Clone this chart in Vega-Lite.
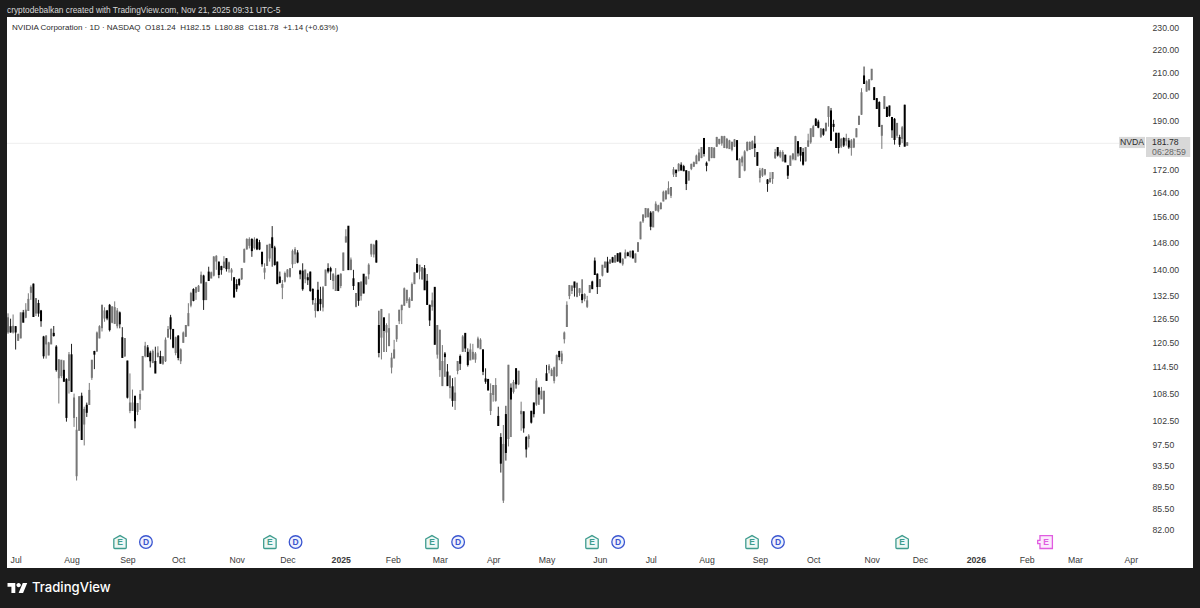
{"$schema":"https://vega.github.io/schema/vega-lite/v6.json","width":1186,"height":551,"padding":{"left":7,"top":17,"right":7,"bottom":40},"autosize":{"type":"none"},"background":"#1c1c1c","view":{"fill":"#ffffff","stroke":null},"title":{"text":"cryptodebalkan created with TradingView.com, Nov 21, 2025 09:31 UTC-5","anchor":"start","frame":"group","offset":3,"color":"#d8d8d8","font":"Liberation Sans","fontSize":8.34,"fontWeight":400},
"datasets":{"ohlc":[
{"i":0,"o":123.4,"h":128.1,"l":122.8,"c":126.8},{"i":1,"o":124.5,"h":126.7,"l":123.1,"c":123.4},{"i":2,"o":123.4,"h":127.8,"l":122.9,"c":124.6},{"i":3,"o":124.5,"h":124.8,"l":118.9,"c":123.4},{"i":4,"o":121.3,"h":122.9,"l":121.1,"c":122.5},{"i":5,"o":121.9,"h":128.3,"l":121.7,"c":128.1},{"i":6,"o":128.1,"h":129,"l":125.9,"c":125.9},{"i":7,"o":127.2,"h":130.8,"l":126.8,"c":128.8},{"i":8,"o":129,"h":133.5,"l":128.8,"c":131.7},{"i":9,"o":133.9,"h":135.7,"l":131.7,"c":135},
{"i":10,"o":135.9,"h":136.2,"l":127.2,"c":127.4},{"i":11,"o":128.3,"h":132.2,"l":127.4,"c":131.9},{"i":12,"o":130.6,"h":131.7,"l":127.2,"c":128.3},{"i":13,"o":128.6,"h":129,"l":124.6,"c":126.3},{"i":14,"o":121.9,"h":122.3,"l":116.7,"c":117.5},{"i":15,"o":120.4,"h":122.5,"l":116.7,"c":122.1},{"i":16,"o":117.7,"h":120.8,"l":117.5,"c":120.4},{"i":17,"o":120.4,"h":124.2,"l":120.3,"c":123.8},{"i":18,"o":122.8,"h":124.8,"l":122.1,"c":122.5},{"i":19,"o":119.4,"h":120,"l":113.6,"c":114.2},
{"i":20,"o":112.3,"h":116.5,"l":106.4,"c":116.3},{"i":21,"o":112.8,"h":116.3,"l":112.1,"c":116.2},{"i":22,"o":113.8,"h":116.3,"l":111.3,"c":111.5},{"i":23,"o":111.7,"h":112.1,"l":102.5,"c":103.5},{"i":24,"o":111.7,"h":118.3,"l":108.6,"c":117.5},{"i":25,"o":117.5,"h":120.3,"l":109,"c":109.2},{"i":26,"o":103.5,"h":108.6,"l":101.4,"c":107.5},{"i":27,"o":91.8,"h":103.5,"l":90.8,"c":100.6},{"i":28,"o":100.8,"h":107.9,"l":100.6,"c":107.8},{"i":29,"o":107.9,"h":108.8,"l":98.7,"c":98.9},
{"i":30,"o":102.1,"h":105.7,"l":97.6,"c":105},{"i":31,"o":105.9,"h":106.6,"l":103.5,"c":104.6},{"i":32,"o":106.3,"h":111,"l":106.1,"c":109.2},{"i":33,"o":112.4,"h":116.3,"l":111.7,"c":116.2},{"i":34,"o":118.3,"h":118.6,"l":114.2,"c":117.9},{"i":35,"o":118.7,"h":123.4,"l":118.3,"c":122.9},{"i":36,"o":121.9,"h":125,"l":121.7,"c":124.5},{"i":37,"o":124.5,"h":130.4,"l":123.4,"c":130.1},{"i":38,"o":127,"h":129.7,"l":125.9,"c":128.6},{"i":39,"o":128.6,"h":129,"l":126.3,"c":127},
{"i":40,"o":130.1,"h":130.6,"l":123.4,"c":124},{"i":41,"o":125.9,"h":129.9,"l":125.5,"c":129.7},{"i":42,"o":125.6,"h":131.3,"l":125.3,"c":129.5},{"i":43,"o":125,"h":129.5,"l":124.2,"c":128.6},{"i":44,"o":128.1,"h":128.6,"l":124.2,"c":125.5},{"i":45,"o":121.7,"h":124.5,"l":117,"c":117.1},{"i":46,"o":117.5,"h":121.7,"l":117.1,"c":121.5},{"i":47,"o":116,"h":116.2,"l":107.5,"c":107.9},{"i":48,"o":105,"h":113.2,"l":104.3,"c":106.4},{"i":49,"o":105,"h":109.5,"l":104.8,"c":106.4},
{"i":50,"o":107.9,"h":108,"l":101.1,"c":102.8},{"i":51,"o":104.8,"h":106.4,"l":103.9,"c":106.3},{"i":52,"o":107.5,"h":109.4,"l":105,"c":108.3},{"i":53,"o":109.5,"h":117.3,"l":109.4,"c":117.1},{"i":54,"o":117.5,"h":120.8,"l":117,"c":119.6},{"i":55,"o":119.2,"h":120,"l":117.1,"c":117.3},{"i":56,"o":117.9,"h":118.6,"l":114.6,"c":116.3},{"i":57,"o":115.9,"h":118.9,"l":115.6,"c":118.3},{"i":58,"o":115.9,"h":119.6,"l":113.4,"c":113.4},{"i":59,"o":117.3,"h":119.7,"l":117,"c":117.9},
{"i":60,"o":117.1,"h":118.6,"l":115.6,"c":115.7},{"i":61,"o":115.7,"h":117.3,"l":115.2,"c":117},{"i":62,"o":116.3,"h":121.9,"l":115.9,"c":121.1},{"i":63,"o":122.1,"h":124.8,"l":121.9,"c":123.8},{"i":64,"o":126.8,"h":127.7,"l":121.4,"c":124.2},{"i":65,"o":123.8,"h":124,"l":119.2,"c":119.6},{"i":66,"o":118.3,"h":122.1,"l":117.5,"c":121.7},{"i":67,"o":122.1,"h":122.5,"l":116.3,"c":117.1},{"i":68,"o":116.3,"h":119.2,"l":115.4,"c":118.7},{"i":69,"o":120.8,"h":123.4,"l":120.6,"c":122.9},
{"i":70,"o":122.3,"h":125,"l":122.1,"c":124.8},{"i":71,"o":125,"h":130.8,"l":125,"c":127.9},{"i":72,"o":130.4,"h":133.9,"l":129.7,"c":133.3},{"i":73,"o":134.4,"h":134.9,"l":131.3,"c":131.7},{"i":74,"o":133.9,"h":135.3,"l":131.7,"c":134.9},{"i":75,"o":134.2,"h":135.8,"l":133.9,"c":135.3},{"i":76,"o":136.5,"h":139.6,"l":136.3,"c":138.4},{"i":77,"o":138.2,"h":138.7,"l":129,"c":131.9},{"i":78,"o":131.9,"h":136.7,"l":131.7,"c":136.3},{"i":79,"o":139.3,"h":141,"l":137,"c":137.2},
{"i":80,"o":137.9,"h":139.6,"l":137.7,"c":139.1},{"i":81,"o":138.7,"h":144.1,"l":138.2,"c":143.7},{"i":82,"o":142.8,"h":144.4,"l":140.1,"c":143.9},{"i":83,"o":142.2,"h":142.5,"l":137.7,"c":138.9},{"i":84,"o":140.9,"h":141.3,"l":138.7,"c":140.3},{"i":85,"o":140.9,"h":144.1,"l":140.6,"c":142.2},{"i":86,"o":143.2,"h":143.5,"l":139.6,"c":140.6},{"i":87,"o":140.6,"h":142.5,"l":139.3,"c":142},{"i":88,"o":139.6,"h":140.6,"l":137,"c":139.9},{"i":89,"o":137.7,"h":137.9,"l":132.4,"c":132.6},
{"i":90,"o":135.8,"h":137.4,"l":133.9,"c":134.9},{"i":91,"o":137.2,"h":137.7,"l":135.5,"c":136.1},{"i":92,"o":137.7,"h":140.6,"l":137.2,"c":140.3},{"i":93,"o":142.5,"h":146.4,"l":142.2,"c":145.9},{"i":94,"o":146.4,"h":149.5,"l":146.1,"c":149},{"i":95,"o":147.5,"h":149.8,"l":146.4,"c":149},{"i":96,"o":149,"h":149.5,"l":143.9,"c":145.9},{"i":97,"o":146.8,"h":149.8,"l":146.1,"c":148.8},{"i":98,"o":149,"h":149.5,"l":145.9,"c":146.4},{"i":99,"o":148,"h":149,"l":145.9,"c":146.4},
{"i":100,"o":145.1,"h":145.4,"l":141,"c":142},{"i":101,"o":139.6,"h":142,"l":137.4,"c":140.3},{"i":102,"o":141.5,"h":147.5,"l":141.3,"c":147.2},{"i":103,"o":143.7,"h":147.8,"l":142.5,"c":147.5},{"i":104,"o":149.5,"h":153.3,"l":141,"c":146.8},{"i":105,"o":146.4,"h":147.2,"l":141.3,"c":141.8},{"i":106,"o":142.2,"h":142.5,"l":136.1,"c":136.3},{"i":107,"o":137.9,"h":139.6,"l":136.3,"c":136.7},{"i":108,"o":135.3,"h":137.2,"l":131.9,"c":135.8},{"i":109,"o":137,"h":139.6,"l":136.5,"c":138.9},
{"i":110,"o":138.4,"h":140.3,"l":137.9,"c":139.9},{"i":111,"o":138.4,"h":140.6,"l":137.9,"c":140.3},{"i":112,"o":142,"h":146.1,"l":140.6,"c":145.4},{"i":113,"o":144.9,"h":146.8,"l":141.8,"c":145.9},{"i":114,"o":144.9,"h":145.9,"l":142,"c":142.5},{"i":115,"o":139.6,"h":140.1,"l":137.4,"c":139.1},{"i":116,"o":139.6,"h":142,"l":134.2,"c":134.9},{"i":117,"o":137.7,"h":140.1,"l":136.3,"c":139.9},{"i":118,"o":137.7,"h":139.1,"l":135.8,"c":137.4},{"i":119,"o":139.3,"h":139.6,"l":133.9,"c":134.4},
{"i":120,"o":134.4,"h":134.9,"l":130.4,"c":131.9},{"i":121,"o":129,"h":132.2,"l":127,"c":130.6},{"i":122,"o":134.2,"h":136.7,"l":128.6,"c":129},{"i":123,"o":131.7,"h":135.3,"l":128.8,"c":130.8},{"i":124,"o":129.9,"h":135.5,"l":128.6,"c":134.9},{"i":125,"o":135.8,"h":140.1,"l":135.5,"c":139.9},{"i":126,"o":140.3,"h":142,"l":139.1,"c":139.9},{"i":127,"o":140.3,"h":141,"l":137.2,"c":139.9},{"i":128,"o":137.2,"h":139.1,"l":134.6,"c":138.7},{"i":129,"o":134.4,"h":140.6,"l":134.2,"c":138.2},
{"i":130,"o":138.4,"h":138.7,"l":134.2,"c":134.4},{"i":131,"o":135.8,"h":139.1,"l":134.9,"c":138.7},{"i":132,"o":140.1,"h":145.1,"l":139.9,"c":144.9},{"i":133,"o":148.5,"h":152.3,"l":148.2,"c":149.8},{"i":134,"o":153.1,"h":153.3,"l":140.1,"c":140.3},{"i":135,"o":140.3,"h":143.7,"l":140.1,"c":142.8},{"i":136,"o":137.4,"h":140.1,"l":134.4,"c":135.8},{"i":137,"o":130.1,"h":133.5,"l":129.7,"c":133.3},{"i":138,"o":136.3,"h":136.3,"l":130.1,"c":131.7},{"i":139,"o":133,"h":136.7,"l":131.5,"c":136.5},
{"i":140,"o":138.7,"h":138.9,"l":133.5,"c":133.7},{"i":141,"o":136.3,"h":138.2,"l":135.8,"c":137.9},{"i":142,"o":139.1,"h":142,"l":137.4,"c":141.3},{"i":143,"o":144.9,"h":147.8,"l":143.9,"c":147.5},{"i":144,"o":144.9,"h":147.8,"l":143.7,"c":147.2},{"i":145,"o":148.5,"h":149,"l":142.2,"c":142.5},{"i":146,"o":124.8,"h":128.8,"l":117,"c":118.3},{"i":147,"o":122.1,"h":129.2,"l":116.5,"c":129},{"i":148,"o":126.8,"h":126.8,"l":118.3,"c":123.8},{"i":149,"o":123.4,"h":125.5,"l":118.3,"c":124.8},
{"i":150,"o":120,"h":128.1,"l":119.7,"c":124},{"i":151,"o":114.8,"h":118.1,"l":113.2,"c":116.7},{"i":152,"o":117,"h":121.3,"l":116.7,"c":118.7},{"i":153,"o":121.7,"h":125,"l":120.8,"c":124.8},{"i":154,"o":126.3,"h":129,"l":125.3,"c":128.8},{"i":155,"o":129.2,"h":130.4,"l":125.3,"c":130.1},{"i":156,"o":130.4,"h":135.1,"l":130.1,"c":134.6},{"i":157,"o":131.7,"h":134.4,"l":130.8,"c":134.2},{"i":158,"o":129.9,"h":132.4,"l":129.5,"c":131.7},{"i":159,"o":131.7,"h":136.5,"l":131.5,"c":135.8},
{"i":160,"o":136.3,"h":139.3,"l":136.1,"c":139.1},{"i":161,"o":141.5,"h":143.5,"l":139.3,"c":139.6},{"i":162,"o":139.9,"h":141.5,"l":137.4,"c":141.3},{"i":163,"o":137.7,"h":140.9,"l":137.2,"c":140.6},{"i":164,"o":140.3,"h":141.5,"l":134.4,"c":134.6},{"i":165,"o":136.7,"h":138.9,"l":130.4,"c":130.6},{"i":166,"o":130.1,"h":130.4,"l":124.8,"c":126.5},{"i":167,"o":130.1,"h":133.7,"l":128.8,"c":131.3},{"i":168,"o":135,"h":135.1,"l":120.3,"c":120.3},{"i":169,"o":117.9,"h":125,"l":116.7,"c":124.8},
{"i":170,"o":114.2,"h":123.8,"l":112.4,"c":123.6},{"i":171,"o":110.5,"h":120,"l":110.5,"c":115.9},{"i":172,"o":117.7,"h":118.3,"l":112.4,"c":117.3},{"i":173,"o":113.4,"h":115.4,"l":110.5,"c":110.5},{"i":174,"o":110.1,"h":112.8,"l":107.5,"c":112.4},{"i":175,"o":110,"h":112.1,"l":105.7,"c":107.2},{"i":176,"o":107.2,"h":112.3,"l":105,"c":108.6},{"i":177,"o":114,"h":115.9,"l":113,"c":115.9},{"i":178,"o":117.1,"h":117.7,"l":114,"c":115.7},{"i":179,"o":118.6,"h":122.5,"l":118.3,"c":121.9},
{"i":180,"o":122.8,"h":122.9,"l":118.3,"c":119.4},{"i":181,"o":118.1,"h":119.2,"l":114.8,"c":115.4},{"i":182,"o":116.5,"h":120.4,"l":117,"c":118.7},{"i":183,"o":116.7,"h":120.3,"l":116.7,"c":118.1},{"i":184,"o":116.7,"h":118.3,"l":115.7,"c":117.7},{"i":185,"o":119.6,"h":122.1,"l":119.2,"c":121.4},{"i":186,"o":119.2,"h":121.7,"l":119.2,"c":121.1},{"i":187,"o":118.7,"h":118.9,"l":112.8,"c":113.8},{"i":188,"o":111.8,"h":114.4,"l":110.8,"c":111.5},{"i":189,"o":111.7,"h":111.8,"l":109.4,"c":109.5},
{"i":190,"o":105,"h":110.9,"l":103.9,"c":108.5},{"i":191,"o":108.5,"h":110.5,"l":106.8,"c":110.3},{"i":192,"o":107.2,"h":112.1,"l":106.8,"c":110.3},{"i":193,"o":103.5,"h":105.7,"l":101.6,"c":101.8},{"i":194,"o":99.1,"h":100.1,"l":92.3,"c":94.2},{"i":195,"o":87.3,"h":101.8,"l":86.7,"c":97.7},{"i":196,"o":103.9,"h":105.9,"l":94.6,"c":96.3},{"i":197,"o":99.1,"h":115.2,"l":97.4,"c":115},{"i":198,"o":109.7,"h":110.9,"l":99.3,"c":107.5},{"i":199,"o":109.2,"h":111.7,"l":108.6,"c":111},
{"i":200,"o":114.2,"h":114.2,"l":109.7,"c":110.9},{"i":201,"o":110.9,"h":113.8,"l":110.5,"c":113.6},{"i":202,"o":104.3,"h":106.8,"l":100.6,"c":104.6},{"i":203,"o":104.5,"h":104.6,"l":100.2,"c":101.3},{"i":204,"o":99.1,"h":99.5,"l":95.2,"c":97},{"i":205,"o":99.1,"h":99.9,"l":97.2,"c":99.4},{"i":206,"o":104.6,"h":104.8,"l":102.1,"c":102.5},{"i":207,"o":106.4,"h":106.6,"l":103.4,"c":104.3},{"i":208,"o":106.4,"h":112.1,"l":105.9,"c":111.3},{"i":209,"o":109.7,"h":110.1,"l":106.1,"c":108.6},
{"i":210,"o":107.5,"h":110.1,"l":107.5,"c":109},{"i":211,"o":104.4,"h":109.2,"l":104.3,"c":109},{"i":212,"o":113,"h":115.2,"l":111.5,"c":111.7},{"i":213,"o":114.2,"h":115.4,"l":113.2,"c":114.8},{"i":214,"o":112.8,"h":114.4,"l":112.6,"c":113.8},{"i":215,"o":111.7,"h":114.8,"l":110.9,"c":114.4},{"i":216,"o":112.8,"h":117.7,"l":112.4,"c":117.3},{"i":217,"o":118.3,"h":118.6,"l":116.3,"c":117.3},{"i":218,"o":116.3,"h":118.6,"l":115.4,"c":117.7},{"i":219,"o":121.7,"h":123.4,"l":120.4,"c":122.9},
{"i":220,"o":124.8,"h":131.3,"l":124.6,"c":130.1},{"i":221,"o":133,"h":135.8,"l":131.9,"c":135.5},{"i":222,"o":134.4,"h":135.8,"l":133.3,"c":135.3},{"i":223,"o":136.5,"h":136.7,"l":132.6,"c":135.3},{"i":224,"o":132.8,"h":136.5,"l":132.4,"c":136.1},{"i":225,"o":133.9,"h":134.9,"l":132.8,"c":134.6},{"i":226,"o":133,"h":137.4,"l":130.8,"c":131.9},{"i":227,"o":132.2,"h":133.5,"l":131.3,"c":133},{"i":228,"o":130.1,"h":132.8,"l":129.5,"c":131.3},{"i":229,"o":133.9,"h":135.8,"l":133.7,"c":135.5},
{"i":230,"o":136.5,"h":137,"l":134.9,"c":134.9},{"i":231,"o":142.5,"h":143.7,"l":138.7,"c":138.9},{"i":232,"o":138.7,"h":139.1,"l":133.3,"c":135.5},{"i":233,"o":135.5,"h":137.4,"l":135.3,"c":137.2},{"i":234,"o":138.7,"h":141.5,"l":138.2,"c":141.3},{"i":235,"o":141,"h":142.5,"l":140.6,"c":142.2},{"i":236,"o":142.2,"h":143.9,"l":139.3,"c":139.6},{"i":237,"o":142.2,"h":143.2,"l":141.8,"c":142.8},{"i":238,"o":143.5,"h":143.9,"l":142.2,"c":142.5},{"i":239,"o":142.5,"h":144.4,"l":142.2,"c":144.1},
{"i":240,"o":144.7,"h":144.9,"l":142.5,"c":142.8},{"i":241,"o":144.9,"h":145.1,"l":142,"c":142.5},{"i":242,"o":142,"h":143.5,"l":141.3,"c":143},{"i":243,"o":143.7,"h":146.1,"l":143.5,"c":144.9},{"i":244,"o":144.9,"h":145.4,"l":144.1,"c":144.4},{"i":245,"o":144.1,"h":145.7,"l":143.7,"c":145.4},{"i":246,"o":145.4,"h":145.9,"l":143.5,"c":143.7},{"i":247,"o":142.5,"h":144.9,"l":142.2,"c":144.6},{"i":248,"o":145.7,"h":148.2,"l":145.4,"c":148},{"i":249,"o":149.5,"h":154.7,"l":149.2,"c":154.4},
{"i":250,"o":155.1,"h":157,"l":154.3,"c":156.7},{"i":251,"o":156.4,"h":159.1,"l":155.9,"c":158.8},{"i":252,"o":156.4,"h":159.1,"l":156.2,"c":158.6},{"i":253,"o":157.3,"h":158.1,"l":152,"c":153.4},{"i":254,"o":153.2,"h":158.1,"l":153,"c":157.7},{"i":255,"o":158.6,"h":161.3,"l":158.1,"c":160.2},{"i":256,"o":158.4,"h":160.2,"l":157.7,"c":159.7},{"i":257,"o":159.1,"h":161,"l":158.6,"c":160.5},{"i":258,"o":161.6,"h":164.9,"l":161.3,"c":164.2},{"i":259,"o":162.4,"h":164.9,"l":161.8,"c":164.6},
{"i":260,"o":164,"h":168.1,"l":164,"c":165.4},{"i":261,"o":163.5,"h":166.1,"l":162.4,"c":165.8},{"i":262,"o":170.8,"h":173.1,"l":169.6,"c":172},{"i":263,"o":171.8,"h":172.2,"l":169.6,"c":171.3},{"i":264,"o":172,"h":174.5,"l":171.6,"c":173.9},{"i":265,"o":173.6,"h":174.8,"l":172,"c":172.2},{"i":266,"o":173.1,"h":173.9,"l":171.6,"c":172},{"i":267,"o":171.6,"h":172,"l":165.1,"c":167.5},{"i":268,"o":168.7,"h":171.6,"l":168.4,"c":171.3},{"i":269,"o":172.8,"h":174.3,"l":172,"c":173.9},
{"i":270,"o":173.6,"h":175.1,"l":173.1,"c":174.5},{"i":271,"o":174.5,"h":177.6,"l":174.3,"c":176.9},{"i":272,"o":175.7,"h":179.7,"l":175.1,"c":178},{"i":273,"o":176.7,"h":180.4,"l":176.3,"c":180},{"i":274,"o":183.4,"h":183.8,"l":176.9,"c":178.2},{"i":275,"o":174.3,"h":175.1,"l":171.6,"c":173.9},{"i":276,"o":175.7,"h":180.4,"l":175.1,"c":180},{"i":277,"o":176.7,"h":180.4,"l":176.3,"c":180},{"i":278,"o":176.7,"h":180.4,"l":176.3,"c":179.7},{"i":279,"o":180.9,"h":184.2,"l":180.4,"c":183.8},
{"i":280,"o":181.9,"h":183.4,"l":181.3,"c":183.1},{"i":281,"o":182.1,"h":184.6,"l":180.9,"c":184.1},{"i":282,"o":180.4,"h":184.6,"l":180,"c":184.1},{"i":283,"o":180.4,"h":183.8,"l":179.7,"c":183.1},{"i":284,"o":180,"h":183.1,"l":179.7,"c":182.5},{"i":285,"o":179.7,"h":182.5,"l":178.8,"c":181.9},{"i":286,"o":180.9,"h":183.4,"l":180.4,"c":182.9},{"i":287,"o":182.6,"h":182.9,"l":175.7,"c":175.9},{"i":288,"o":169.6,"h":176.3,"l":169.3,"c":175.7},{"i":289,"o":175.1,"h":177.2,"l":173.4,"c":176.3},
{"i":290,"o":172.2,"h":179.2,"l":171.6,"c":178.4},{"i":291,"o":179.4,"h":182.5,"l":178.8,"c":181.9},{"i":292,"o":179.7,"h":182.5,"l":179.4,"c":181.9},{"i":293,"o":180,"h":182.9,"l":179.7,"c":182.2},{"i":294,"o":181.3,"h":184.6,"l":176.7,"c":180.4},{"i":295,"o":178.2,"h":178.4,"l":173.6,"c":173.9},{"i":296,"o":169.6,"h":172.8,"l":167.7,"c":171.6},{"i":297,"o":170.4,"h":172.8,"l":169.6,"c":172.2},{"i":298,"o":170.8,"h":172.4,"l":170.1,"c":172},{"i":299,"o":168.4,"h":168.9,"l":164.5,"c":167.5},
{"i":300,"o":168.1,"h":171.3,"l":167.7,"c":168.9},{"i":301,"o":169.3,"h":171.3,"l":167.2,"c":171},{"i":302,"o":176.7,"h":179.7,"l":176,"c":178.2},{"i":303,"o":180,"h":180.4,"l":176.9,"c":177.6},{"i":304,"o":177.2,"h":179.2,"l":176.3,"c":178.2},{"i":305,"o":175.5,"h":179.2,"l":175.1,"c":178.2},{"i":306,"o":177.2,"h":177.6,"l":175.1,"c":175.1},{"i":307,"o":173.4,"h":173.6,"l":168.9,"c":170.4},{"i":308,"o":173.9,"h":177.2,"l":173.6,"c":176.9},{"i":309,"o":176.3,"h":178.2,"l":175.5,"c":177.6},
{"i":310,"o":175.9,"h":184.6,"l":175.7,"c":184.1},{"i":311,"o":182.2,"h":182.5,"l":176.9,"c":178.4},{"i":312,"o":180,"h":180.4,"l":175.1,"c":177.6},{"i":313,"o":178.2,"h":180,"l":173.6,"c":174.3},{"i":314,"o":175.5,"h":180.4,"l":175.1,"c":180},{"i":315,"o":180.9,"h":185.4,"l":180.4,"c":182.5},{"i":316,"o":182.5,"h":187.5,"l":181.6,"c":187.1},{"i":317,"o":184.6,"h":188.8,"l":184.1,"c":187.9},{"i":318,"o":190.8,"h":191.5,"l":188.4,"c":188.8},{"i":319,"o":189.7,"h":190.8,"l":187.5,"c":188.1},
{"i":320,"o":184.6,"h":187.5,"l":183.8,"c":187.1},{"i":321,"o":186.9,"h":187.5,"l":184.6,"c":185.4},{"i":322,"o":186.9,"h":189.7,"l":186.2,"c":189.2},{"i":323,"o":192.3,"h":196.1,"l":188.1,"c":195.8},{"i":324,"o":194.1,"h":195.5,"l":182.9,"c":183.1},{"i":325,"o":188.8,"h":190.8,"l":186.2,"c":188.4},{"i":326,"o":185.4,"h":185.4,"l":180.4,"c":180.4},{"i":327,"o":185.4,"h":185.4,"l":178,"c":180.4},{"i":328,"o":180.9,"h":183.8,"l":180,"c":183.1},{"i":329,"o":183.4,"h":184.1,"l":180.4,"c":181.3},
{"i":330,"o":182.9,"h":185.4,"l":180.9,"c":183.4},{"i":331,"o":182.5,"h":183.8,"l":179.7,"c":180.6},{"i":332,"o":180.4,"h":183.4,"l":177.2,"c":182.5},{"i":333,"o":180.6,"h":183.8,"l":180,"c":183.1},{"i":334,"o":184.4,"h":187.5,"l":184.1,"c":187.1},{"i":335,"o":189.2,"h":192.3,"l":188.8,"c":192},{"i":336,"o":193.2,"h":203.6,"l":192.7,"c":201.5},{"i":337,"o":208.6,"h":212.9,"l":205.5,"c":205.8},{"i":338,"o":202.6,"h":206.9,"l":202.2,"c":206.1},{"i":339,"o":203.2,"h":207.5,"l":202.6,"c":206.9},
{"i":340,"o":207.5,"h":211.8,"l":206.9,"c":211.5},{"i":341,"o":203.6,"h":204.1,"l":198.8,"c":199.1},{"i":342,"o":199.1,"h":199.5,"l":195.1,"c":195.5},{"i":343,"o":197.5,"h":198.2,"l":188.1,"c":188.4},{"i":344,"o":185,"h":188.8,"l":179.7,"c":188.4},{"i":345,"o":195.5,"h":200.2,"l":195.1,"c":199.9},{"i":346,"o":195.5,"h":196.1,"l":192,"c":192.3},{"i":347,"o":196.1,"h":196.4,"l":192,"c":192.7},{"i":348,"o":191.5,"h":191.9,"l":183.8,"c":187.1},{"i":349,"o":190.8,"h":191.5,"l":181.3,"c":183.4},
{"i":350,"o":185,"h":189.4,"l":183.8,"c":189.2},{"i":351,"o":183.8,"h":185,"l":180.4,"c":181.6},{"i":352,"o":183.8,"h":188.4,"l":181.9,"c":187.5},{"i":353,"o":196.4,"h":196.8,"l":180.6,"c":180.9},{"i":354,"o":181.24,"h":182.15,"l":180.88,"c":181.78}
],"events":[{"i":44.1,"kind":"E"},{"i":103.1,"kind":"E"},{"i":166.9,"kind":"E"},{"i":229.9,"kind":"E"},{"i":292.9,"kind":"E"},{"i":352,"kind":"E"}],"dividends":[{"i":54.3,"kind":"D"},{"i":113.2,"kind":"D"},{"i":177.2,"kind":"D"},{"i":240.2,"kind":"D"},{"i":303.1,"kind":"D"}],"future":[{"i":408.7,"kind":"E"}]},
"layer":[
{"data":{"values":[{"last":181.78}]},"mark":{"type":"rule","color":"#eeeeee","strokeWidth":1},"encoding":{"x":{"datum":-0.4,"type":"quantitative","scale":{"domain":[-0.4,466.5],"nice":false,"zero":false},"axis":{"title":null,"values":[3,25,47,67,90,110,131,151.5,170,191,212,233,253,275,296,317,340,359,381,401,420,442],"labelExpr":"{'3':'Jul','25':'Aug','47':'Sep','67':'Oct','90':'Nov','110':'Dec','131':'2025','151.5':'Feb','170':'Mar','191':'Apr','212':'May','233':'Jun','253':'Jul','275':'Aug','296':'Sep','317':'Oct','340':'Nov','359':'Dec','381':'2026','401':'Feb','420':'Mar','442':'Apr'}[''+datum.value]","offset":-13,"grid":false,"domain":false,"ticks":false,"labelPadding":0,"labelFont":"Liberation Sans","labelFontSize":8.7,"labelColor":"#3a3a3a","labelOverlap":false,"labelFlush":false,"labelBound":false,"labelFontWeight":{"condition":{"test":"datum.value==131||datum.value==381","value":700},"value":400}}},"x2":{"datum":437.4},"y":{"field":"last","type":"quantitative","scale":{"type":"log","domain":[75.84,235.75],"nice":false,"zero":false},"axis":{"title":null,"orient":"right","values":[230,220,210,200,190,172,164,156,148,140,132.5,126.5,120.5,114.5,108.5,102.5,97.5,93.5,89.5,85.5,82],"format":".2f","offset":-41,"grid":false,"domain":false,"ticks":false,"labelPadding":0,"labelOffset":-1,"labelFont":"Liberation Sans","labelFontSize":8.7,"labelColor":"#3a3a3a","labelOverlap":false,"labelBound":false,"labelFlush":false}}}},
{"data":{"name":"ohlc"},"mark":{"type":"rule","strokeWidth":1},"encoding":{"x":{"field":"i","type":"quantitative","axis":{"title":null}},"y":{"field":"l","type":"quantitative","axis":{"title":null,"orient":"right"}},"y2":{"field":"h"},"color":{"condition":{"test":"datum.c>=datum.o","value":"#777777"},"value":"#222222"}}},
{"data":{"name":"ohlc"},"mark":{"type":"rule","strokeWidth":2,"strokeCap":"square"},"encoding":{"x":{"field":"i","type":"quantitative","axis":{"title":null}},"y":{"field":"o","type":"quantitative","axis":{"title":null,"orient":"right"}},"y2":{"field":"c"},"color":{"condition":{"test":"datum.c>=datum.o","value":"#777777"},"value":"#000000"}}},
{"data":{"values":[{"tag":"NVDA"}]},"mark":{"type":"rect","color":"#d8d8d8"},"encoding":{"x":{"datum":437.4,"type":"quantitative","axis":{"title":null}},"x2":{"datum":447.6},"y":{"datum":184.2,"type":"quantitative","axis":{"title":null,"orient":"right"}},"y2":{"datum":180.0}}},
{"data":{"values":[{"tag":"price"}]},"mark":{"type":"rect","color":"#d8d8d8"},"encoding":{"x":{"datum":448,"type":"quantitative","axis":{"title":null}},"x2":{"datum":465.4},"y":{"datum":184.2,"type":"quantitative","axis":{"title":null,"orient":"right"}},"y2":{"datum":176.7}}},
{"data":{"values":[{"t":"NVDA"}]},"mark":{"type":"text","align":"center","baseline":"middle","font":"Liberation Sans","fontSize":8.7,"color":"#2a2a2a"},"encoding":{"x":{"datum":442.5,"type":"quantitative","axis":{"title":null}},"y":{"datum":182.2,"type":"quantitative","axis":{"title":null,"orient":"right"}},"text":{"field":"t"}}},
{"data":{"values":[{"t":"181.78"}]},"mark":{"type":"text","align":"left","baseline":"middle","font":"Liberation Sans","fontSize":8.7,"color":"#2a2a2a"},"encoding":{"x":{"datum":450.4,"type":"quantitative","axis":{"title":null}},"y":{"datum":182.2,"type":"quantitative","axis":{"title":null,"orient":"right"}},"text":{"field":"t"}}},
{"data":{"values":[{"t":"06:28:59"}]},"mark":{"type":"text","align":"left","baseline":"middle","font":"Liberation Sans","fontSize":8.7,"color":"#666666"},"encoding":{"x":{"datum":450.4,"type":"quantitative","axis":{"title":null}},"y":{"datum":178.6,"type":"quantitative","axis":{"title":null,"orient":"right"}},"text":{"field":"t"}}},
{"data":{"values":[{"t":"NVIDIA Corporation · 1D · NASDAQ\u00a0\u00a0O181.24\u00a0\u00a0H182.15\u00a0\u00a0L180.88\u00a0\u00a0C181.78\u00a0\u00a0+1.14 (+0.63%)"}]},"mark":{"type":"text","align":"left","baseline":"middle","font":"Liberation Sans","fontSize":8,"color":"#2a2a2a"},"encoding":{"x":{"datum":1.6,"type":"quantitative","axis":{"title":null}},"y":{"datum":230.5,"type":"quantitative","axis":{"title":null,"orient":"right"}},"text":{"field":"t"}}},
{"data":{"name":"events"},"mark":{"type":"point","filled":true,"fill":"#eef7f5","stroke":"#3f9c8e","strokeWidth":1.3,"opacity":1,"size":230,"shape":"M-0.82,-0.4 L0,-0.85 L0.82,-0.4 L0.82,0.72 Q0.82,0.85 0.7,0.85 L-0.7,0.85 Q-0.82,0.85 -0.82,0.72 Z"},"encoding":{"x":{"field":"i","type":"quantitative","axis":{"title":null}},"y":{"datum":80.0,"type":"quantitative","axis":{"title":null,"orient":"right"}}}},
{"data":{"name":"dividends"},"mark":{"type":"point","filled":true,"fill":"#eff2fd","stroke":"#3a55d0","strokeWidth":1.3,"opacity":1,"size":160,"shape":"circle"},"encoding":{"x":{"field":"i","type":"quantitative","axis":{"title":null}},"y":{"datum":80.0,"type":"quantitative","axis":{"title":null,"orient":"right"}}}},
{"data":{"name":"future"},"mark":{"type":"point","filled":true,"fill":"#fbeafc","stroke":"#e05ce0","strokeWidth":1.3,"opacity":1,"size":230,"shape":"M-0.82,-0.85 L0.82,-0.85 L0.82,0.85 L-0.82,0.85 L-0.82,0.22 L-1.12,0.22 L-1.12,-0.22 L-0.82,-0.22 Z"},"encoding":{"x":{"field":"i","type":"quantitative","axis":{"title":null}},"y":{"datum":80.0,"type":"quantitative","axis":{"title":null,"orient":"right"}}}},
{"data":{"name":"events"},"mark":{"type":"text","font":"Liberation Sans","fontSize":8.5,"fontWeight":700,"color":"#3f9c8e","align":"center","baseline":"middle"},"encoding":{"x":{"field":"i","type":"quantitative","axis":{"title":null}},"y":{"datum":79.95,"type":"quantitative","axis":{"title":null,"orient":"right"}},"text":{"field":"kind"}}},
{"data":{"name":"dividends"},"mark":{"type":"text","font":"Liberation Sans","fontSize":8.5,"fontWeight":700,"color":"#3a55d0","align":"center","baseline":"middle"},"encoding":{"x":{"field":"i","type":"quantitative","axis":{"title":null}},"y":{"datum":79.95,"type":"quantitative","axis":{"title":null,"orient":"right"}},"text":{"field":"kind"}}},
{"data":{"name":"future"},"mark":{"type":"text","font":"Liberation Sans","fontSize":8.5,"fontWeight":700,"color":"#e05ce0","align":"center","baseline":"middle"},"encoding":{"x":{"field":"i","type":"quantitative","axis":{"title":null}},"y":{"datum":79.95,"type":"quantitative","axis":{"title":null,"orient":"right"}},"text":{"field":"kind"}}},
{"data":{"values":[{"brand":"logo"}]},"mark":{"type":"point","filled":true,"color":"#ffffff","opacity":1,"size":400,"shape":"M-0.222,0.5 L-0.611,0.5 L-0.611,-0.111 L-1,-0.111 L-1,-0.5 L-0.222,-0.5 Z M0.556,0.5 L0.111,0.5 L0.528,-0.5 L0.972,-0.5 Z M-0.111,-0.278 A0.222,0.222 0 1 1 0.333,-0.278 A0.222,0.222 0 1 1 -0.111,-0.278 Z"},"encoding":{"x":{"datum":3.74,"type":"quantitative","axis":{"title":null}},"y":{"datum":72.8,"type":"quantitative","axis":{"title":null,"orient":"right"}}}},
{"data":{"values":[{"t":"TradingView"}]},"mark":{"type":"text","align":"left","baseline":"middle","font":"Inter","fontSize":13.1,"fontWeight":500,"color":"#ffffff"},"encoding":{"x":{"datum":9.45,"type":"quantitative","axis":{"title":null}},"y":{"datum":72.8,"type":"quantitative","axis":{"title":null,"orient":"right"}},"text":{"field":"t"}}}
]}
